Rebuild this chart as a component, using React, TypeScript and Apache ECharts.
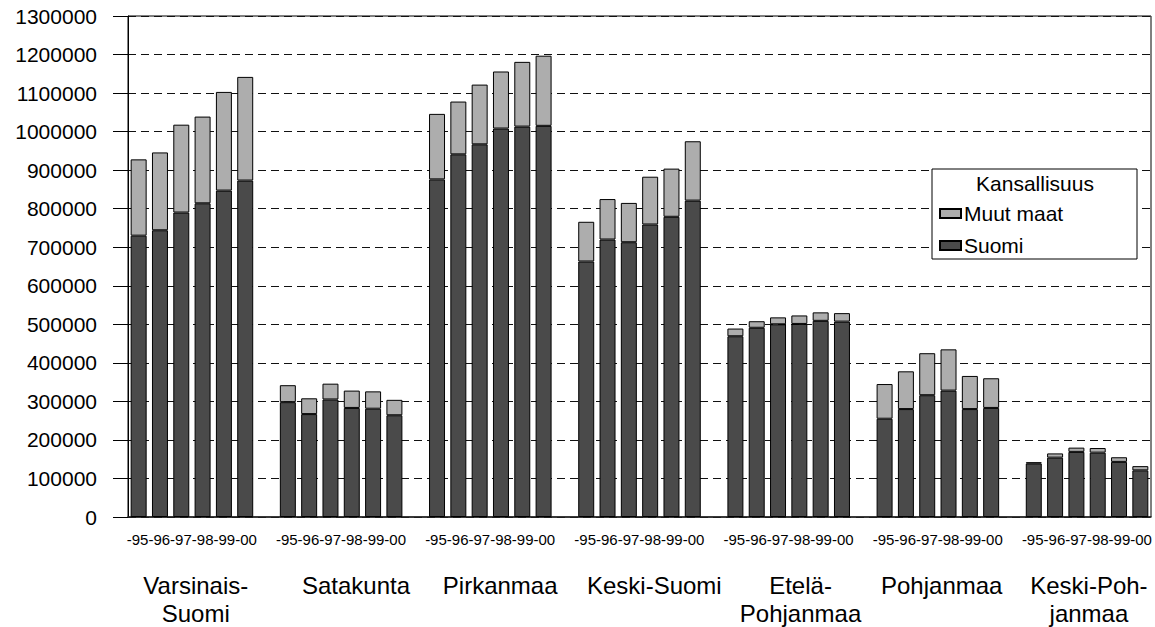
import React, { useEffect, useRef } from 'react';
import * as echarts from 'echarts';

const regions = [
  'Varsinais-\nSuomi',
  'Satakunta',
  'Pirkanmaa',
  'Keski-Suomi',
  'Etelä-\nPohjanmaa',
  'Pohjanmaa',
  'Keski-Poh-\njanmaa',
];
const years = ['-95', '-96', '-97', '-98', '-99', '-00'];
const yearLabel = '-95-96-97-98-99-00';

const suomi = [
  [730000, 744000, 790000, 814000, 847000, 873000],
  [298000, 267000, 305000, 283000, 281000, 264000],
  [876000, 941000, 967000, 1008000, 1013000, 1015000],
  [663000, 720000, 713000, 759000, 779000, 821000],
  [469000, 491000, 500000, 501000, 509000, 507000],
  [255000, 280000, 316000, 328000, 280000, 283000],
  [139000, 154000, 169000, 167000, 143000, 121000],
];
const muutMaat = [
  [198000, 202000, 228000, 225000, 256000, 269000],
  [44000, 41000, 41000, 45000, 45000, 40000],
  [170000, 137000, 155000, 148000, 168000, 182000],
  [103000, 105000, 102000, 124000, 125000, 154000],
  [20000, 17000, 18000, 22000, 22000, 22000],
  [90000, 98000, 109000, 107000, 86000, 77000],
  [3000, 11000, 11000, 12000, 12000, 11000],
];

const yMin = 0;
const yMax = 1300000;
const yStep = 100000;

// horizontal nudge (px) of each region name relative to its group centre (layout only)
const regionNudge = [4, 15, 10, 15, 12, 4, 2];

const FONT = '"Liberation Sans", Arial, Helvetica, sans-serif';

export default function App() {
  const ref = useRef<HTMLDivElement>(null);

  useEffect(() => {
    if (!ref.current) return;
    const chart = echarts.init(ref.current, undefined, { renderer: 'svg' });

    const categories: string[] = [];
    const suomiData: (number | string)[] = [];
    const muutData: (number | string)[] = [];
    regions.forEach((r, g) => {
      years.forEach((y, i) => {
        categories.push(r + y);
        suomiData.push(suomi[g][i]);
        muutData.push(muutMaat[g][i]);
      });
      if (g < regions.length - 1) {
        categories.push(r + ' gap');
        suomiData.push('-');
        muutData.push('-');
      }
    });

    const groupSize = years.length + 1;

    const rich: Record<string, any> = {
      y: { fontSize: 15, lineHeight: 20, fontFamily: FONT, color: '#000', align: 'center' },
      s: { fontSize: 8, lineHeight: 22, fontFamily: FONT, color: '#000', align: 'center' },
    };
    regionNudge.forEach((n, g) => {
      rich['r' + g] = {
        fontSize: 24,
        lineHeight: 28,
        fontFamily: FONT,
        color: '#000',
        align: 'center',
        padding: n >= 0 ? [0, 0, 0, 2 * n] : [0, -2 * n, 0, 0],
      };
    });

    chart.setOption({
      animation: false,
      backgroundColor: '#fff',
      grid: {
        left: 128,
        right: 4,
        top: 16,
        bottom: 110,
        show: true,
        borderColor: '#000',
        borderWidth: 1,
        backgroundColor: 'transparent',
      },
      xAxis: {
        type: 'category',
        data: categories,
        axisLine: { show: true, lineStyle: { color: '#222', width: 1.5 } },
        axisTick: { show: false },
        splitLine: { show: false },
        axisLabel: {
          interval: (index: number) => index % groupSize === 2,
          margin: 12,
          align: 'center',
          padding: [0, 0, 0, 21],
          formatter: (_v: string, index: number) => {
            const g = Math.floor(index / groupSize);
            const lines = regions[g]
              .split('\n')
              .map((l) => '{r' + g + '|' + l + '}')
              .join('\n');
            return '{y|' + yearLabel + '}\n{s| }\n' + lines;
          },
          rich,
        },
      },
      yAxis: {
        type: 'value',
        min: yMin,
        max: yMax,
        interval: yStep,
        axisLine: { show: true, lineStyle: { color: '#000', width: 1 } },
        axisTick: { show: true, length: 15, lineStyle: { color: '#000' } },
        splitLine: { show: true, lineStyle: { color: '#111', type: [8, 5], width: 1 } },
        axisLabel: {
          fontSize: 21,
          fontFamily: FONT,
          color: '#000',
          margin: 31,
          formatter: (v: number) => String(v),
        },
      },
      legend: {
        data: [
          { name: 'Muut maat', icon: 'rect' },
          { name: 'Suomi', icon: 'rect' },
        ],
        orient: 'vertical',
        left: 939,
        top: 203,
        padding: 0,
        itemWidth: 21,
        itemHeight: 9,
        itemGap: 11,
        selectedMode: false,
        z: 20,
        textStyle: { fontSize: 21, fontFamily: FONT, color: '#000', lineHeight: 20, padding: [0, 0, 0, -2] },
      },
      graphic: [
        {
          type: 'rect',
          z: 15,
          shape: { x: 932, y: 169, width: 205, height: 90 },
          style: { fill: '#fff', stroke: '#000', lineWidth: 1 },
        },
        {
          type: 'text',
          z: 16,
          x: 1035,
          y: 183,
          style: {
            text: 'Kansallisuus',
            fontSize: 21,
            fontFamily: FONT,
            fill: '#000',
            align: 'center',
            verticalAlign: 'middle',
          },
        },
      ],
      series: [
        {
          name: 'Suomi',
          type: 'bar',
          stack: 'total',
          data: suomiData,
          barWidth: '75%',
          itemStyle: { color: '#4a4a4a', borderColor: '#000', borderWidth: 1 },
        },
        {
          name: 'Muut maat',
          type: 'bar',
          stack: 'total',
          data: muutData,
          barWidth: '75%',
          itemStyle: { color: '#adadad', borderColor: '#000', borderWidth: 1 },
        },
      ],
    });

    return () => chart.dispose();
  }, []);

  return (
    <div
      ref={ref}
      style={{ position: 'absolute', left: 0, top: 0, width: 1155, height: 627, background: '#fff' }}
    />
  );
}
